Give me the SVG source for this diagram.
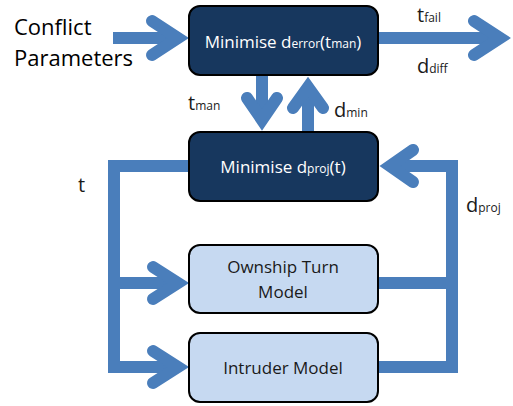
<svg xmlns="http://www.w3.org/2000/svg" width="513" height="406" viewBox="0 0 513 406">
<style>
.ln{fill:none;stroke:#4a7ebb;stroke-width:12;stroke-linejoin:miter;stroke-linecap:butt}
.ch{fill:none;stroke:#4a7ebb;stroke-width:12;stroke-linejoin:miter;stroke-miterlimit:10;stroke-linecap:round}
.dark{fill:#17375e;stroke:#000;stroke-width:2}
.light{fill:#c6d9f1;stroke:#000;stroke-width:2}
.t{font-family:"Open Sans","Liberation Sans",sans-serif}
.w{fill:#fff;font-size:17px}
.k{fill:#1a1a1a;font-size:17px}
.lbl{fill:#1a1a1a;font-size:20px}
.lab{fill:#000;font-size:22px}
.sub{font-size:12px}
</style>
<rect width="513" height="406" fill="#fff"/>
<g id="connectors">
<path class="ln" d="M113,38 H180"/>
<polyline class="ch" points="152,21 178,38 152,55"/>
<path class="ln" d="M378,38 H498"/>
<polyline class="ch" points="474,21 500,38 474,55"/>
<path class="ln" d="M262,75 V118"/>
<polyline class="ch" points="247,98 262,120 277,98"/>
<path class="ln" d="M308,132 V90"/>
<polyline class="ch" points="293,108 308,87 323,108"/>
<path class="ln" d="M189,166 H114 V367 H178"/>
<path class="ln" d="M114,283 H178"/>
<polyline class="ch" points="153,267 178,283 153,299"/>
<polyline class="ch" points="153,351 178,367 153,383"/>
<path class="ln" d="M377,283 H452 V166 H392"/>
<path class="ln" d="M377,367 H452 V280"/>
<polyline class="ch" points="413,150 390,166 413,182"/>
</g>
<g id="conflict-parameters">
<text class="t lab" x="14" y="35">Conflict</text>
<text class="t lab" x="14" y="66">Parameters</text>
</g>
<g id="minimise-derror">
<rect class="dark" x="189" y="6" width="189" height="69" rx="11"/>
<text class="t w" x="283" y="48" text-anchor="middle">Minimise d<tspan class="sub">error</tspan>(t<tspan class="sub">man</tspan>)</text>
</g>
<g id="minimise-dproj">
<rect class="dark" x="189" y="132" width="189" height="69" rx="11"/>
<text class="t w" x="283" y="173" text-anchor="middle">Minimise d<tspan class="sub">proj</tspan>(t)</text>
</g>
<g id="ownship">
<rect class="light" x="189" y="245" width="189" height="68" rx="11"/>
<text class="t k" x="283" y="273" text-anchor="middle">Ownship Turn</text>
<text class="t k" x="283" y="298" text-anchor="middle">Model</text>
</g>
<g id="intruder">
<rect class="light" x="189" y="333" width="189" height="69" rx="11"/>
<text class="t k" x="283" y="374" text-anchor="middle">Intruder Model</text>
</g>
<g id="labels">
<text class="t lbl" x="417" y="22">t<tspan class="sub">fail</tspan></text>
<text class="t lbl" x="417" y="73">d<tspan class="sub">diff</tspan></text>
<text class="t lbl" x="188" y="110">t<tspan class="sub">man</tspan></text>
<text class="t lbl" x="334" y="117">d<tspan class="sub">min</tspan></text>
<text class="t lbl" x="78" y="192">t</text>
<text class="t lbl" x="466" y="212">d<tspan class="sub">proj</tspan></text>
</g>
</svg>
